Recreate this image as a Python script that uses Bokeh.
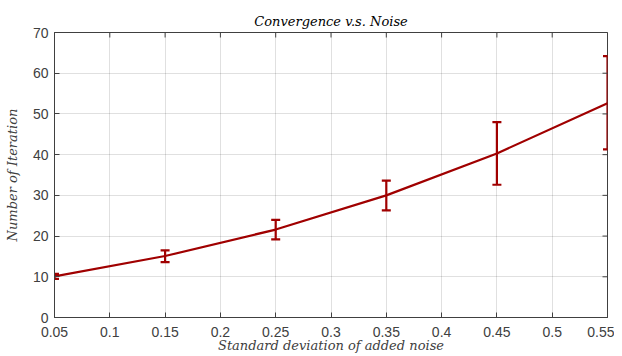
import math
from bokeh.plotting import figure
from bokeh.models import Whisker, TeeHead, ColumnDataSource, Range1d, FixedTicker
from bokeh.embed import file_html
from bokeh.resources import INLINE

noise = [0.05, 0.15, 0.25, 0.35, 0.45, 0.55]
iters = [10.1, 15.1, 21.6, 30.0, 40.3, 52.6]
lower = [9.5, 13.6, 19.2, 26.3, 32.6, 41.3]
upper = [10.7, 16.5, 24.0, 33.6, 48.0, 64.2]
x_ticks = [0.05, 0.1, 0.15, 0.2, 0.25, 0.3, 0.35, 0.4, 0.45, 0.5, 0.55]
y_ticks = [0, 10, 20, 30, 40, 50, 60, 70]
x_min, x_max = 0.05, 0.55
y_min, y_max = 0, 70

RED = "#A00000"
AX = "#404040"
LABEL_FONT = "DejaVu Serif"
TICK_FONT = "Liberation Sans"

src = ColumnDataSource(dict(x=noise, y=iters, lo=lower, hi=upper))

p = figure(width=614, height=356, output_backend="svg", toolbar_location=None,
           x_range=Range1d(x_min, x_max), y_range=Range1d(y_min, y_max),
           min_border_left=54, min_border_right=7, min_border_top=32, min_border_bottom=39)

p.title.text = "Convergence v.s. Noise"
p.title.align = "center"
p.title.text_font = LABEL_FONT
p.title.text_font_style = "italic"
p.title.text_font_size = "13px"
p.title.text_color = "#000000"
p.title.offset = 0
p.title.standoff = 7

p.outline_line_color = AX
p.outline_line_width = 1
p.background_fill_color = "white"
p.border_fill_color = "white"

for ax in (p.xaxis[0], p.yaxis[0]):
    ax.major_tick_in = 5
    ax.major_tick_out = 0
    ax.minor_tick_line_color = None
    ax.axis_line_color = AX
    ax.major_tick_line_color = AX
    ax.major_label_text_font = TICK_FONT
    ax.major_label_text_font_size = "14px"
    ax.major_label_text_color = AX
    ax.axis_label_text_font = LABEL_FONT
    ax.axis_label_text_font_style = "italic"
    ax.axis_label_text_font_size = "13px"
    ax.axis_label_text_color = AX

p.xaxis[0].ticker = FixedTicker(ticks=x_ticks)
p.yaxis[0].ticker = FixedTicker(ticks=y_ticks)
p.xaxis[0].major_label_overrides = {t: ("%g" % t) for t in x_ticks}
p.xaxis[0].axis_label = "Standard deviation of added noise"
p.yaxis[0].axis_label = "Number of Iteration"
p.xaxis[0].major_label_standoff = 9
p.xaxis[0].axis_label_standoff = -2
p.yaxis[0].major_label_standoff = 6
p.yaxis[0].axis_label_standoff = 10

# inward ticks on top and right edges (half of each dash is clipped by the frame)
p.scatter(x=x_ticks, y=[y_max] * len(x_ticks), marker="dash", angle=math.pi / 2,
          size=10, line_color=AX, line_width=1)
p.scatter(x=[x_max] * len(y_ticks), y=y_ticks, marker="dash",
          size=10, line_color=AX, line_width=1)

p.xgrid.ticker = FixedTicker(ticks=x_ticks)
p.ygrid.ticker = FixedTicker(ticks=y_ticks)
p.xgrid.grid_line_color = "#000000"
p.ygrid.grid_line_color = "#000000"
p.xgrid.grid_line_alpha = 0.12
p.ygrid.grid_line_alpha = 0.12

p.line("x", "y", source=src, line_color=RED, line_width=2.2)

w = Whisker(source=src, base="x", lower="lo", upper="hi", line_color=RED, line_width=2.2,
            upper_head=TeeHead(size=9, line_color=RED, line_width=2.2),
            lower_head=TeeHead(size=9, line_color=RED, line_width=2.2))
p.add_layout(w)

open("out.html", "w").write(file_html(p, INLINE))
